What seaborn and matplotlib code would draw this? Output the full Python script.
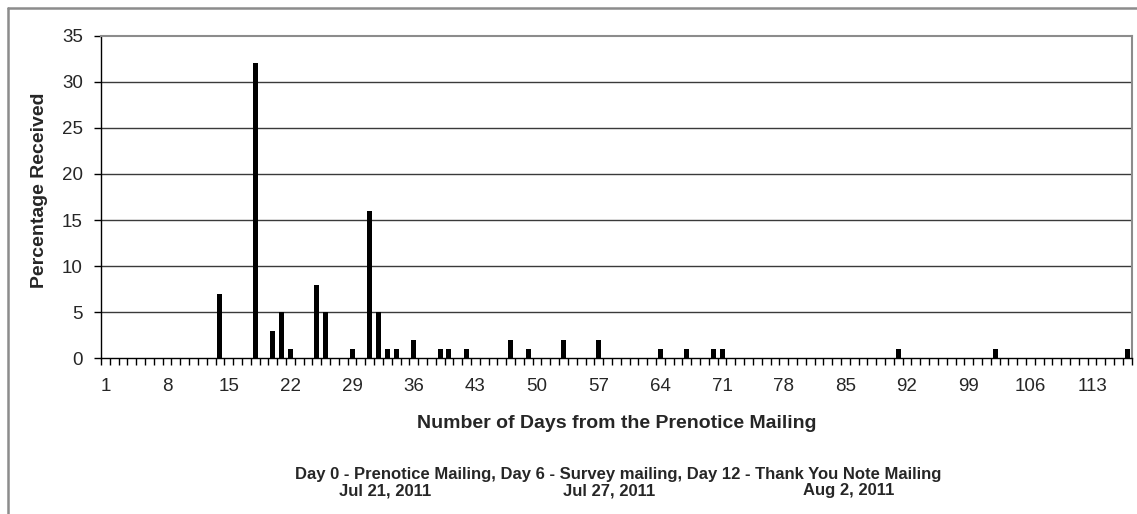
import matplotlib
matplotlib.use("Agg")
import matplotlib.pyplot as plt
import seaborn as sns
import pandas as pd
from matplotlib.lines import Line2D
from matplotlib.ticker import FixedLocator, NullFormatter

# ---- data ----
n_days = 117
day_with_returns = [14, 18, 20, 21, 22, 25, 26, 29, 31, 32, 33, 34, 36, 39, 40, 42,
                    47, 49, 53, 57, 64, 67, 70, 71, 91, 102, 117]
pct_received = [7, 32, 3, 5, 1, 8, 5, 1, 16, 5, 1, 1, 2, 1, 1, 1,
                2, 1, 2, 2, 1, 1, 1, 1, 1, 1, 1]
tick_label_days = [1, 8, 15, 22, 29, 36, 43, 50, 57, 64, 71, 78, 85, 92, 99, 106, 113]
y_ticks = [0, 5, 10, 15, 20, 25, 30, 35]

x_title = "Number of Days from the Prenotice Mailing"
y_title = "Percentage Received"
note_line1 = "Day 0 - Prenotice Mailing, Day 6 - Survey mailing, Day 12 - Thank You Note Mailing"
note_dates = ["Jul 21, 2011", "Jul 27, 2011", "Aug 2, 2011"]

# table for seaborn (zero for days without returns)
lookup = dict(zip(day_with_returns, pct_received))
all_days = list(range(1, n_days + 1))
df = pd.DataFrame({"day": [str(d) for d in all_days],
                   "pct": [lookup.get(d, 0) for d in all_days]})

sns.set_theme(style="white")
plt.rcParams["font.family"] = ["Liberation Sans", "DejaVu Sans"]

W, H = 1137, 514
fig = plt.figure(figsize=(W / 100, H / 100), dpi=100)
ax = fig.add_axes([101 / W, 1 - 358.3 / H, (1131.7 - 101) / W, (358.3 - 35.7) / H])

sns.barplot(data=df, x="day", y="pct", order=[str(d) for d in all_days],
            color="black", width=0.57, saturation=1, ax=ax, edgecolor="none")

ax.set_xlim(-0.5, n_days - 0.5)
ax.set_ylim(0, 35)

# grid lines
ax.set_yticks(y_ticks)
ax.set_yticklabels([str(v) for v in y_ticks], fontsize=13.5)
for v in y_ticks[1:-1]:
    ax.axhline(v, color="#3a3a3a", lw=1.0, zorder=0)

# x tick labels at category centres every 7 days, tick marks at boundaries
ax.set_xticks([all_days.index(d) for d in tick_label_days])
ax.set_xticklabels([str(d) for d in tick_label_days], fontsize=13.5)
ax.tick_params(axis="x", which="major", length=0, pad=14)
ax.xaxis.set_minor_locator(FixedLocator([i - 0.5 for i in range(n_days + 1)]))
ax.xaxis.set_minor_formatter(NullFormatter())
ax.tick_params(axis="x", which="minor", bottom=True, length=5, width=1, color="black", direction="out")
ax.tick_params(axis="y", which="major", left=True, length=5, width=1, color="black", direction="out", pad=8)

for side in ["left", "bottom"]:
    ax.spines[side].set_color("black")
    ax.spines[side].set_linewidth(1)
for side in ["top", "right"]:
    ax.spines[side].set_color("#8c8c8c")
    ax.spines[side].set_linewidth(1.5)
ax.spines["bottom"].set_zorder(5)

ax.set_xlabel("")
ax.set_ylabel("")

# titles
fig.text(40 / W, 1 - 190 / H, y_title, rotation=90, ha="center", va="center",
         fontsize=14, fontweight="bold")
fig.text(617 / W, 1 - 424 / H, x_title, ha="center", va="center",
         fontsize=14, fontweight="bold")

fig.text(618 / W, 1 - 474 / H, note_line1, ha="center", va="center",
         fontsize=12, fontweight="bold")
for xc, s in zip([385, 609, 849], note_dates):
    fig.text(xc / W, 1 - 491 / H, s, ha="center", va="center",
             fontsize=12, fontweight="bold")

# chart-area border (left and top visible)
fig.add_artist(Line2D([7.5 / W, 7.5 / W], [0, 1 - 7.5 / H], transform=fig.transFigure,
                      color="#8c8c8c", lw=1.8))
fig.add_artist(Line2D([7.5 / W, 1], [1 - 7.5 / H, 1 - 7.5 / H], transform=fig.transFigure,
                      color="#8c8c8c", lw=1.8))

fig.savefig("out.png", dpi=100)
